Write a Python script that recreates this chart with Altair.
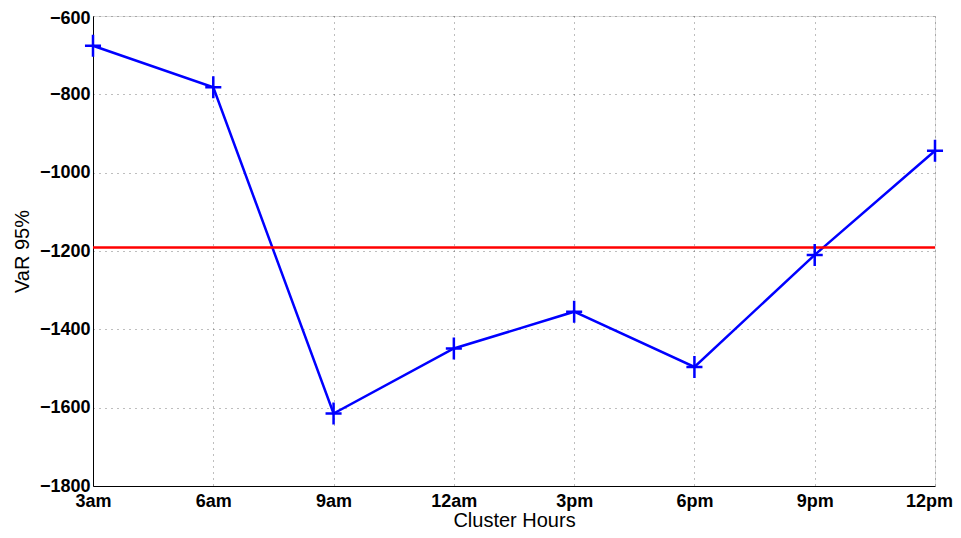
import altair as alt
import pandas as pd

hours = ["3am", "6am", "9am", "12am", "3pm", "6pm", "9pm", "12pm"]
var95 = [-676, -782, -1615, -1449, -1355, -1496, -1210, -944]
threshold = [-1191]
y_ticks = [-1800, -1600, -1400, -1200, -1000, -800, -600]

df = pd.DataFrame({"hour": hours, "var": var95})
ref = pd.DataFrame({"thr": threshold})

FONT = "Liberation Sans"

x_enc = alt.X(
    "hour:N",
    sort=hours,
    scale=alt.Scale(type="point", padding=0),
    axis=alt.Axis(
        title="Cluster Hours",
        labelAngle=0,
        labelFont=FONT,
        labelFontSize=18,
        labelFontWeight="bold",
        labelColor="black",
        labelPadding=6,
        labelOffset=alt.ExprRef("datum.label == '12pm' ? -6 : 0"),
        tickSize=0,
        domainColor="black",
        grid=True,
        gridColor="#444444",
        gridDash=[1, 5],
        gridOpacity=0.7,
        titleFont=FONT,
        titleFontSize=20,
        titleFontWeight="normal",
        titleColor="black",
        titleY=40,
        titleBaseline="alphabetic",
    ),
)

y_enc = alt.Y(
    "var:Q",
    scale=alt.Scale(domain=[-1800, -600], nice=False, zero=False),
    axis=alt.Axis(
        title="VaR 95%",
        values=y_ticks,
        format="d",
        labelFont=FONT,
        labelFontSize=18,
        labelFontWeight="bold",
        labelColor="black",
        labelPadding=3,
        labelOffset=alt.ExprRef("datum.value == -600 ? 2 : 0"),
        tickSize=0,
        domainColor="black",
        grid=True,
        gridColor="#444444",
        gridDash=[1, 5],
        gridOpacity=0.7,
        titleFont=FONT,
        titleFontSize=20,
        titleFontWeight="normal",
        titleColor="black",
        titleAngle=270,
        titleX=-71,
        titleY=235,
        titleAlign="center",
        titleBaseline="middle",
    ),
)

line = alt.Chart(df).mark_line(color="#0000FF", strokeWidth=2.5).encode(x=x_enc, y=y_enc)

pts = alt.Chart(df).mark_point(
    shape="M-0.73,0H0.73M0,-1V1",
    filled=False,
    color="#0000FF",
    strokeWidth=2.5,
    size=484,
    opacity=1,
).encode(x=alt.X("hour:N", sort=hours), y="var:Q")

rule = alt.Chart(ref).mark_rule(color="#FF0000", strokeWidth=2.5).encode(y="thr:Q")

chart = (
    alt.layer(line, rule, pts)
    .properties(
        width=842,
        height=470,
        autosize=alt.AutoSizeParams(type="none"),
        padding={"left": 85, "top": 8, "right": 18, "bottom": 44},
    )
    .configure_view(stroke=None)
    .configure(background="white")
)

chart.save("out.html", embed_options={"renderer": "svg", "actions": False})
